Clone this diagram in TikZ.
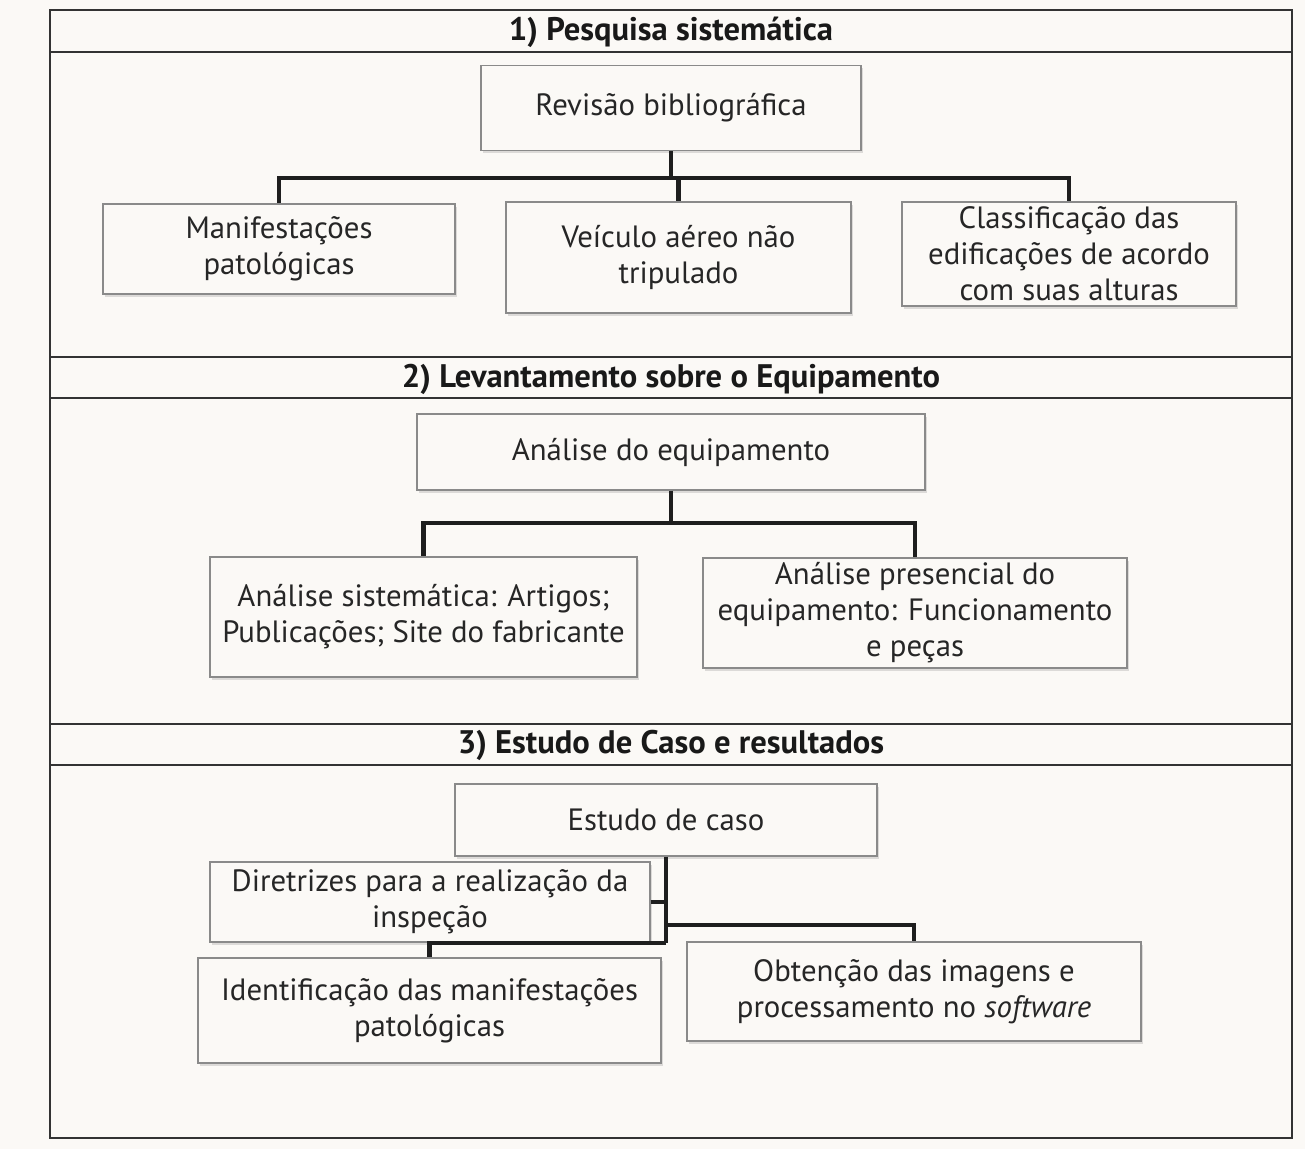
\documentclass[tikz,border=0pt]{standalone}
\usepackage{fontspec}
\setmainfont{PT Sans}
\usetikzlibrary{shadows}
\definecolor{paper}{HTML}{FBF9F6}
\definecolor{frameline}{HTML}{333333}
\definecolor{boxline}{HTML}{8A8A8A}
\definecolor{linkcolor}{HTML}{1E1E1E}

\begin{document}
\begin{tikzpicture}[x=0.5pt,y=-0.5pt,
    box/.style={draw=boxline, line width=0.7pt, fill=paper, align=center,
        inner sep=0pt, font=\fontsize{15.4}{18}\selectfont, text=black!85,
        drop shadow={shadow xshift=1pt, shadow yshift=-1.5pt, opacity=0.25}},
    title/.style={font=\fontsize{16.3}{18}\selectfont\bfseries, text=black!90},
    link/.style={draw=linkcolor, line width=2.4pt}]
    \fill[paper] (0,0) rectangle (1305,1149);
    \useasboundingbox (0,0) rectangle (1305,1149);

    % frame and headers
    \draw[frameline, line width=1pt] (50,10) rectangle (1292,1138);
    \draw[frameline, line width=1pt] (50,52) -- (1292,52);
    \draw[frameline, line width=1pt] (50,357) -- (1292,357);
    \draw[frameline, line width=1pt] (50,398) -- (1292,398);
    \draw[frameline, line width=1pt] (50,724) -- (1292,724);
    \draw[frameline, line width=1pt] (50,765) -- (1292,765);

    \node[title] (t1) at (671,32) {1) Pesquisa sistemática};
    \node[title] (t2) at (671,379) {2) Levantamento sobre o Equipamento};
    \node[title] (t3) at (671,745) {3) Estudo de Caso e resultados};

    % section 1
    \node[box, minimum width=190pt, minimum height=42.5pt] (rev) at (671,108) {Revisão bibliográfica};
    \node[box, minimum width=176pt, minimum height=45pt] (man) at (279,249) {Manifestações\\patológicas};
    \node[box, minimum width=172.5pt, minimum height=55.5pt] (vei) at (678.5,257.5) {Veículo aéreo não\\tripulado};
    \node[box, minimum width=167pt, minimum height=52pt] (cla) at (1069,254) {Classificação das\\edificações de acordo\\com suas alturas};
    \coordinate (j1) at (671,178);
    \draw[link] (rev.south) -- (j1);
    \draw[link] (j1) -| (man.north);
    \draw[link] (j1) -| (vei.north);
    \draw[link] (j1) -| (cla.north);

    % section 2
    \node[box, minimum width=254pt, minimum height=38pt] (ana) at (671,452) {Análise do equipamento};
    \node[box, minimum width=213.5pt, minimum height=60pt] (sis) at (423.5,617) {Análise sistemática: Artigos;\\Publicações; Site do fabricante};
    \node[box, minimum width=212pt, minimum height=55pt] (pre) at (915,613) {Análise presencial do\\equipamento: Funcionamento\\e peças};
    \coordinate (j2) at (671,523);
    \draw[link] (ana.south) -- (j2);
    \draw[link] (j2) -| (sis.north);
    \draw[link] (j2) -| (pre.north);

    % section 3
    \node[box, minimum width=211pt, minimum height=36pt] (est) at (666,820) {Estudo de caso};
    \node[box, minimum width=220pt, minimum height=40pt] (dir) at (430,902) {Diretrizes para a realização da\\inspeção};
    \node[box, minimum width=231.5pt, minimum height=52.5pt] (ide) at (429.5,1010.5) {Identificação das manifestações\\patológicas};
    \node[box, minimum width=227pt, minimum height=49.5pt] (obt) at (914,991.5) {Obtenção das imagens e\\processamento no \textit{software}};
    \coordinate (j3) at (666,943);
    \coordinate (k3) at (666,925);
    \draw[link] (est.south) -- (j3);
    \draw[link] (dir.east) -- (dir.east -| j3);
    \draw[link] (k3) -| (obt.north);
    \draw[link] (j3) -| (ide.north);
\end{tikzpicture}
\end{document}
